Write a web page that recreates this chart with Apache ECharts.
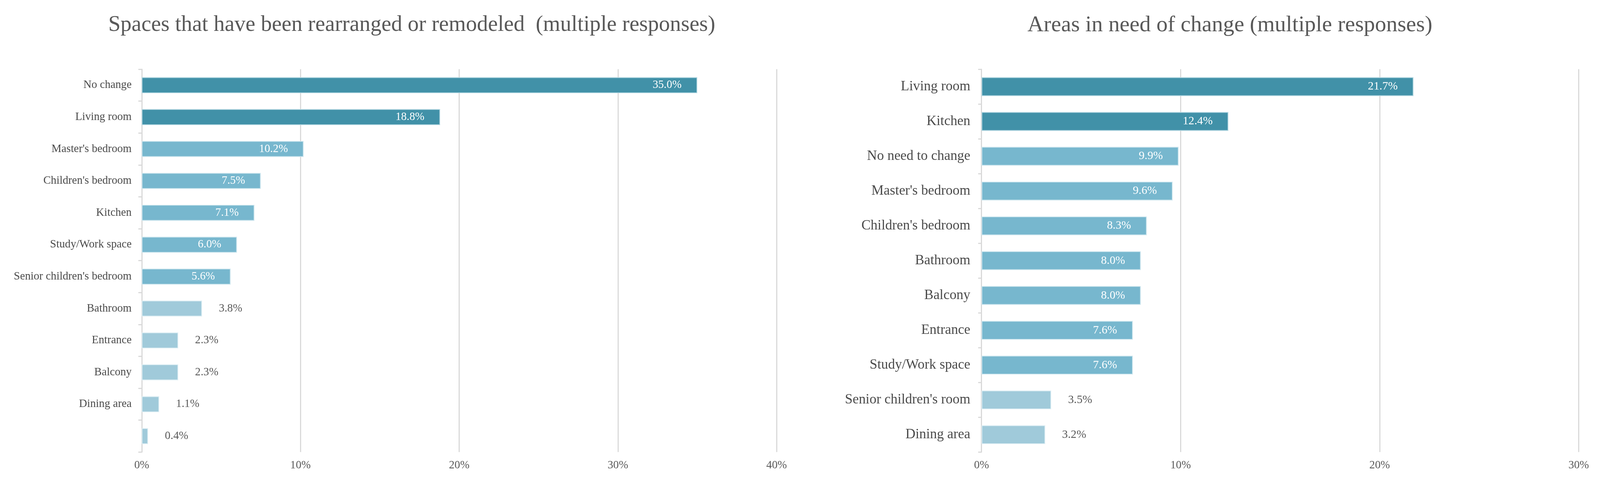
<!DOCTYPE html>
<html>
<head>
<meta charset="utf-8">
<script src="https://cdn.jsdelivr.net/npm/echarts@6/dist/echarts.min.js"></script>
<style>
html,body{margin:0;padding:0;background:#fff;overflow:hidden;}
#chart{width:100vw;height:100vh;}
</style>
</head>
<body>
<div id="chart"></div>
<script>
// ---- Data ----
var leftTitle = "Spaces that have been rearranged or remodeled  (multiple responses)";
var leftCategories = ["No change", "Living room", "Master's bedroom", "Children's bedroom", "Kitchen", "Study/Work space", "Senior children's bedroom", "Bathroom", "Entrance", "Balcony", "Dining area", ""];
var leftValues = [35.0, 18.8, 10.2, 7.5, 7.1, 6.0, 5.6, 3.8, 2.3, 2.3, 1.1, 0.4];
var leftTicks = [0, 10, 20, 30, 40];

var rightTitle = "Areas in need of change (multiple responses)";
var rightCategories = ["Living room", "Kitchen", "No need to change", "Master's bedroom", "Children's bedroom", "Bathroom", "Balcony", "Entrance", "Study/Work space", "Senior children's room", "Dining area"];
var rightValues = [21.7, 12.4, 9.9, 9.6, 8.3, 8.0, 8.0, 7.6, 7.6, 3.5, 3.2];
var rightTicks = [0, 10, 20, 30];

// ---- Layout (designed for 4279 x 1284, scaled uniformly to the real viewport width) ----
var el = document.getElementById('chart');
var W = el.clientWidth || 4279;
var s = W / 4279;
el.style.height = Math.round(1284 * s) + 'px';
var H = Math.round(1284 * s);
function P(v) { return v * s; }

var FONT = "'Liberation Serif', 'Times New Roman', serif";
var TIERS = {
  dark:  { color: '#4191A8', border: '#B3D7E1' },
  mid:   { color: '#77B7CE', border: '#CDE6EE' },
  light: { color: '#A0CADA', border: '#DDEEF4' }
};

function buildData(values, darkMin, midMin, labelSize) {
  return values.map(function (v) {
    var tier = v >= darkMin ? 'dark' : (v >= midMin ? 'mid' : 'light');
    var inside = tier !== 'light';
    return {
      value: v,
      itemStyle: { color: TIERS[tier].color, borderColor: TIERS[tier].border, borderWidth: P(2) },
      label: {
        show: true,
        position: inside ? 'insideRight' : 'right',
        distance: inside ? P(42) : P(45),
        color: inside ? '#FFFFFF' : '#595959',
        fontFamily: FONT,
        fontSize: P(labelSize),
        formatter: function (p) { return p.value.toFixed(1) + '%'; }
      }
    };
  });
}

var chart = echarts.init(el, null, { renderer: 'canvas', width: W, height: H });

function xAxisCfg(gridIndex, ticks) {
  return {
    type: 'value', gridIndex: gridIndex,
    min: ticks[0], max: ticks[ticks.length - 1], interval: ticks[1] - ticks[0],
    axisLine: { show: false }, axisTick: { show: false },
    splitLine: { show: true, lineStyle: { color: '#D9D9D9', width: P(3) } },
    axisLabel: { formatter: '{value}%', fontFamily: FONT, fontSize: P(30), color: '#595959',
                 margin: P(20), showMaxLabel: true, showMinLabel: true }
  };
}
function yAxisCfg(gridIndex, cats, fontSize, margin) {
  return {
    type: 'category', gridIndex: gridIndex, data: cats, inverse: true,
    axisLine: { show: true, lineStyle: { color: '#D9D9D9', width: P(3) } },
    axisTick: { show: true, length: P(9), lineStyle: { color: '#D9D9D9', width: P(3) } },
    axisLabel: { fontFamily: FONT, fontSize: P(fontSize), color: '#4A4A4A', margin: P(margin) }
  };
}

var option = {
  backgroundColor: '#ffffff',
  animation: false,
  title: [
    { text: leftTitle, left: P(1096), top: P(33), textAlign: 'center',
      textStyle: { fontFamily: FONT, fontSize: P(59), fontWeight: 'normal', color: '#595959' } },
    { text: rightTitle, left: P(3284), top: P(33), textAlign: 'center',
      textStyle: { fontFamily: FONT, fontSize: P(60), fontWeight: 'normal', color: '#595959' } }
  ],
  grid: [
    { left: P(379), width: P(2077 - 379), top: P(185), height: P(1208 - 185) },
    { left: P(2625), width: P(4222 - 2625), top: P(185), height: P(1208 - 185) }
  ],
  xAxis: [xAxisCfg(0, leftTicks), xAxisCfg(1, rightTicks)],
  yAxis: [yAxisCfg(0, leftCategories, 30, 27), yAxisCfg(1, rightCategories, 37, 30)],
  series: [
    { type: 'bar', xAxisIndex: 0, yAxisIndex: 0, barCategoryGap: '50%',
      data: buildData(leftValues, 15, 5, 30) },
    { type: 'bar', xAxisIndex: 1, yAxisIndex: 1, barCategoryGap: '46%',
      data: buildData(rightValues, 12, 5, 31) }
  ]
};
chart.setOption(option);
</script>
</body>
</html>
